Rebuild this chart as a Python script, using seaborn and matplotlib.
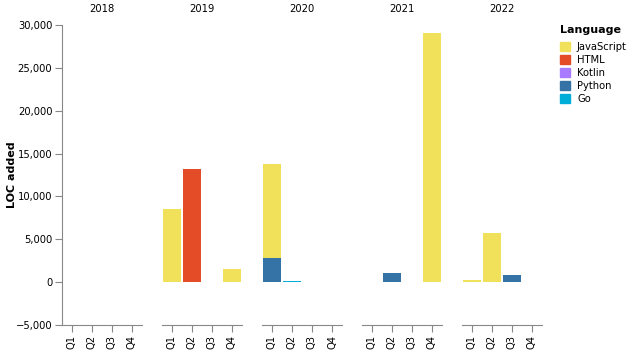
import numpy as np
import pandas as pd
import matplotlib.pyplot as plt
import matplotlib.patches as mpatches
from matplotlib.ticker import FuncFormatter
import seaborn as sns

# LOC added per quarter, faceted by year, stacked by language
years = [2018, 2019, 2020, 2021, 2022]
quarters = ["Q1", "Q2", "Q3", "Q4"]
languages = ["JavaScript", "HTML", "Kotlin", "Python", "Go"]
lang_colors = ["#f1e05a", "#e34c26", "#a97bff", "#3572a5", "#00add8"]

rec_year = [2019, 2019, 2019, 2020, 2020, 2020, 2021, 2021, 2022, 2022, 2022]
rec_quarter = ["Q1", "Q2", "Q4", "Q1", "Q1", "Q2", "Q2", "Q4", "Q1", "Q2", "Q3"]
rec_lang = ["JavaScript", "HTML", "JavaScript", "Python", "JavaScript", "Go",
            "Python", "JavaScript", "JavaScript", "JavaScript", "Python"]
rec_loc = [8500, 13200, 1500, 2800, 11000, 150, 1050, 29050, 250, 5700, 800]

df = pd.DataFrame({"Year": rec_year, "Quarter": rec_quarter,
                   "Language": rec_lang, "LOC": rec_loc})

# bottom -> top stacking order
stack_order = languages[::-1]
palette = dict(zip(languages, lang_colors))

sns.set_style("white")
plt.rcParams["font.family"] = ["DejaVu Sans"]
plt.rcParams["text.color"] = "black"
plt.rcParams["xtick.color"] = "black"
plt.rcParams["ytick.color"] = "black"
plt.rcParams["axes.labelcolor"] = "black"

fig = plt.figure(figsize=(6.3, 3.51), dpi=100)
W, H = 630, 351

axes = []
for i, yr in enumerate(years):
    left = 62 + i * 100
    ax = fig.add_axes([left / W, (H - 325) / H, 80 / W, 300 / H])
    axes.append(ax)

    sub = df[df["Year"] == yr]
    wide = sub.pivot_table(index="Quarter", columns="Language", values="LOC",
                           aggfunc="sum").reindex(index=quarters, columns=stack_order).fillna(0)
    cum = wide.cumsum(axis=1)
    # draw from the top of the stack down so lower segments sit in front
    for lang in stack_order[::-1]:
        part = pd.DataFrame({"Quarter": quarters, "cum": cum[lang].values,
                             "own": wide[lang].values})
        part = part[part["own"] > 0]
        if part.empty:
            continue
        sns.barplot(data=part, x="Quarter", y="cum", order=quarters,
                    color=palette[lang], saturation=1, width=0.9,
                    linewidth=0, errorbar=None, ax=ax)

    ax.set_xlim(-0.5, 3.5)
    ax.set_ylim(-5000, 30000)
    ax.set_xlabel("")
    ax.set_ylabel("")
    ax.set_title(str(yr), fontsize=7.2, pad=9)
    for s in ["top", "right"]:
        ax.spines[s].set_visible(False)
    ax.spines["bottom"].set_color("#888888")
    ax.spines["left"].set_color("#888888")
    ax.set_xticks(range(4))
    ax.set_xticklabels(quarters)
    ax.tick_params(axis="x", rotation=90, length=5, color="#888888",
                   labelcolor="black", labelsize=7.2, pad=2, bottom=True)
    if i == 0:
        ax.set_yticks(range(-5000, 30001, 5000))
        ax.yaxis.set_major_formatter(FuncFormatter(lambda v, p: f"{int(v):,}".replace("-", "\u2212")))
        ax.tick_params(axis="y", length=5, color="#888888", labelcolor="black",
                       labelsize=7.2, pad=2, left=True)
        ax.set_ylabel("LOC added", fontsize=8, fontweight="bold")
        ax.yaxis.set_label_coords(-45 / 80, 0.5)
    else:
        ax.spines["left"].set_visible(False)
        ax.set_yticks([])

handles = [mpatches.Patch(color=c, label=l) for l, c in zip(languages, lang_colors)]
leg = fig.legend(handles=handles, title="Language", loc="upper left",
                 bbox_to_anchor=(560 / W, 1 - 25 / H), frameon=False,
                 fontsize=7.2, title_fontproperties={"weight": "bold", "size": 8},
                 handlelength=1.0, handleheight=1.0, handletextpad=0.7,
                 labelspacing=0.3, borderaxespad=0, borderpad=0)
leg._legend_box.align = "left"
leg._legend_box.sep = 5

fig.savefig("out.png", dpi=100)
